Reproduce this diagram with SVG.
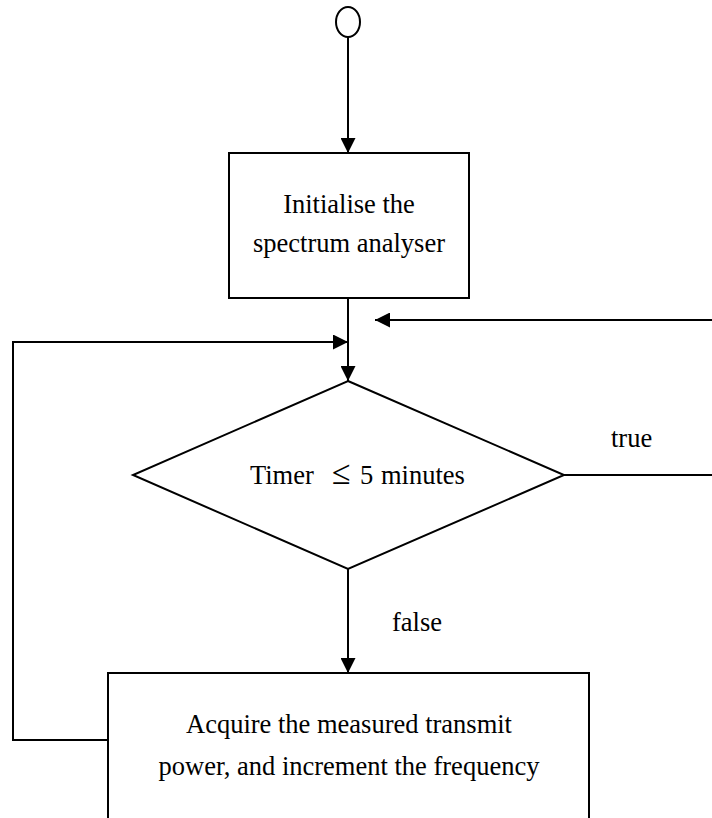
<svg xmlns="http://www.w3.org/2000/svg" width="712" height="818" viewBox="0 0 712 818">
<style>
.s{fill:none;stroke:#000;stroke-width:2}
.n{fill:#fff;stroke:#000;stroke-width:2}
text{font-family:"Liberation Serif","Times New Roman",serif;font-size:26.5px;fill:#000}
.c{text-anchor:middle}
</style>
<defs>
<marker id="ah" viewBox="0 0 10 10" refX="10" refY="5" markerWidth="15" markerHeight="15" markerUnits="userSpaceOnUse" orient="auto">
<path d="M0,0 L10,5 L0,10 Z" fill="#000"/>
</marker>
</defs>
<rect width="712" height="818" fill="#fff"/>
<g id="connectors">
<line class="s" x1="348" y1="37" x2="348" y2="153" marker-end="url(#ah)"/>
<line class="s" x1="348" y1="298" x2="348" y2="381" marker-end="url(#ah)"/>
<polyline class="s" points="108,740 13,740 13,342 348,342" marker-end="url(#ah)"/>
<line class="s" x1="712" y1="320" x2="375" y2="320" marker-end="url(#ah)"/>
<line class="s" x1="564" y1="475" x2="712" y2="475"/>
<line class="s" x1="348" y1="569" x2="348" y2="673" marker-end="url(#ah)"/>
<text x="611" y="447">true</text>
<text x="392" y="631">false</text>
</g>
<g id="start">
<ellipse class="n" cx="348" cy="22" rx="12" ry="15"/>
</g>
<g id="init">
<rect class="n" x="229" y="153" width="240" height="145"/>
<text class="c" x="349" y="213">Initialise the</text>
<text class="c" x="349" y="252">spectrum analyser</text>
</g>
<g id="decision">
<polygon class="n" points="348,381 564,475 348,569 133,475"/>
<text y="484"><tspan x="250">Timer</tspan><tspan x="332" font-size="34">≤</tspan><tspan x="360">5</tspan><tspan x="381">minutes</tspan></text>
</g>
<g id="acquire">
<rect class="n" x="108" y="673" width="481" height="200"/>
<text class="c" x="349" y="733">Acquire the measured transmit</text>
<text class="c" x="349" y="775">power, and increment the frequency</text>
</g>
</svg>
